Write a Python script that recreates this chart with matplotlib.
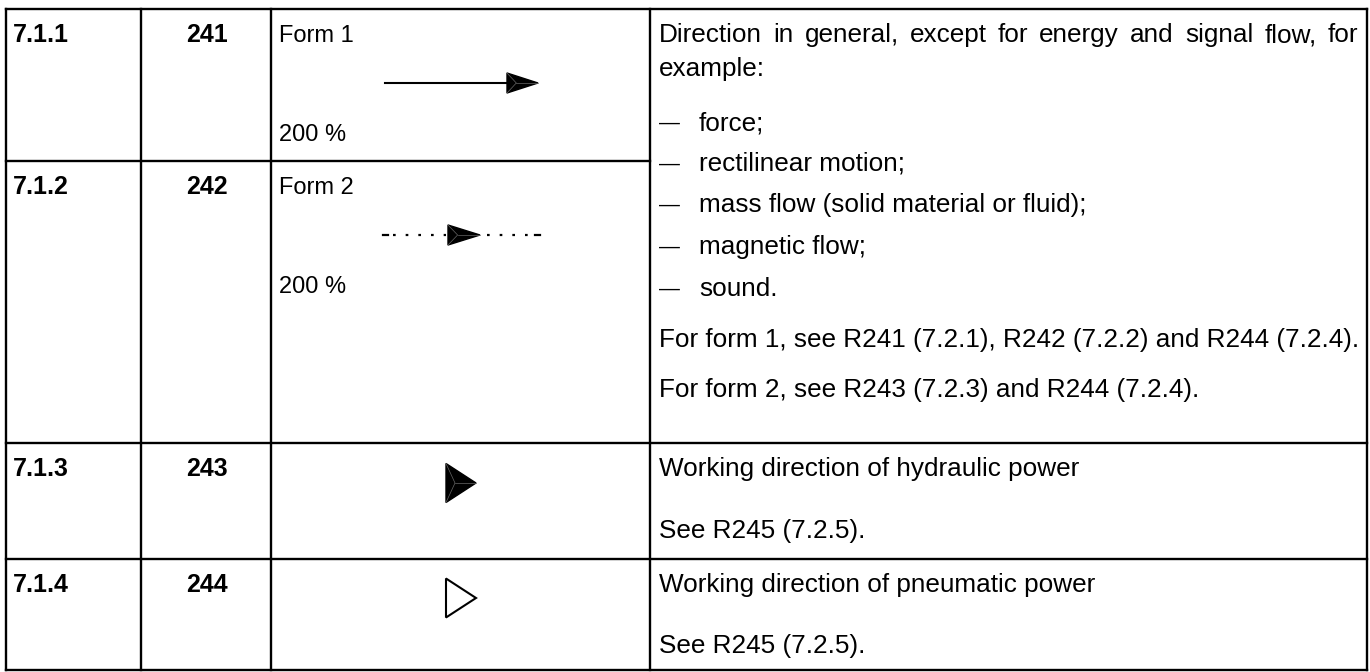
import matplotlib
matplotlib.use("Agg")
import matplotlib.pyplot as plt
from matplotlib.patches import Polygon

# table content
item_ids = ["7.1.1", "7.1.2", "7.1.3", "7.1.4"]
symbol_ids = ["241", "242", "243", "244"]
form_labels = ["Form 1", "Form 2"]
scale_labels = ["200 %", "200 %"]
intro = "Direction in general, except for energy and signal flow, for"
intro2 = "example:"
bullets = ["force;", "rectilinear motion;", "mass flow (solid material or fluid);",
           "magnetic flow;", "sound."]
refs = ["For form 1, see R241 (7.2.1), R242 (7.2.2) and R244 (7.2.4).",
        "For form 2, see R243 (7.2.3) and R244 (7.2.4)."]
hyd_lines = ["Working direction of hydraulic power", "See R245 (7.2.5)."]
pneu_lines = ["Working direction of pneumatic power", "See R245 (7.2.5)."]

# layout (pixels)
W, H = 1370, 672
col_x = [6, 141, 271, 650, 1367]
row_y = [9, 161, 443, 559, 670]
label_y = [35, 187, 469, 585]
scale_y = [135, 287]
intro_y = [35, 69]
bullet_y = [123, 164, 205, 247, 289]
ref_y = [340, 390]
fs_bold = 18
fs_norm = 17
fs_desc = 18.8
font = "Liberation Sans"

fig = plt.figure(figsize=(W / 100, H / 100), dpi=100)
ax = fig.add_axes([0, 0, 1, 1])
ax.set_xlim(0, W)
ax.set_ylim(H, 0)
ax.axis("off")
renderer = fig.canvas.get_renderer()

lw = 1.7
for x in col_x:
    ax.plot([x, x], [row_y[0], row_y[-1]], color="black", lw=lw, solid_capstyle="projecting")
for y in [row_y[0], row_y[2], row_y[3], row_y[4]]:
    ax.plot([col_x[0], col_x[-1]], [y, y], color="black", lw=lw, solid_capstyle="projecting")
# split between 7.1.1 and 7.1.2 stops at the description column
ax.plot([col_x[0], col_x[3]], [row_y[1], row_y[1]], color="black", lw=lw)

for i in range(4):
    ax.text(col_x[0] + 7, label_y[i], item_ids[i], fontsize=fs_bold, fontweight="bold",
            family=font, va="center")
    ax.text((col_x[1] + col_x[2]) / 2 + 1, label_y[i], symbol_ids[i], fontsize=fs_bold,
            fontweight="bold", family=font, va="center", ha="center")
for i in range(2):
    ax.text(col_x[2] + 8, label_y[i] + 1, form_labels[i], fontsize=fs_norm, family=font, va="center")
    ax.text(col_x[2] + 8, scale_y[i], scale_labels[i], fontsize=fs_norm, family=font, va="center")

tx = col_x[3] + 9


def spread_words(s, x0, x1, y):
    # justified line: words spread so the line runs from x0 to x1
    words = s.split(" ")
    ts = [ax.text(x0, y, w, fontsize=fs_desc, family=font, va="center") for w in words]
    widths = [t.get_window_extent(renderer).width for t in ts]
    gap = (x1 - x0 - sum(widths)) / (len(words) - 1)
    x = x0
    for t, w in zip(ts, widths):
        t.set_x(x)
        x += w + gap


spread_words(intro, tx, 1358, intro_y[0])
ax.text(tx, intro_y[1], intro2, fontsize=fs_desc, family=font, va="center")
for txt, y in zip(bullets, bullet_y):
    ax.text(tx, y, "\u2014", fontsize=fs_desc * 0.8, family=font, va="center")
    ax.text(tx + 40, y, txt, fontsize=fs_desc, family=font, va="center")
for txt, y in zip(refs, ref_y):
    ax.text(tx, y, txt, fontsize=fs_desc, family=font, va="center")

for txt, y in zip(hyd_lines, [469, 531]):
    ax.text(tx, y, txt, fontsize=fs_desc, family=font, va="center")
for txt, y in zip(pneu_lines, [585, 646]):
    ax.text(tx, y, txt, fontsize=fs_desc, family=font, va="center")


def arrow_head(x0, yc, w, h, filled=True):
    tri = [(x0, yc - h / 2), (x0 + w, yc), (x0, yc + h / 2)]
    if filled:
        ax.add_patch(Polygon(tri, closed=True, fc="black", ec="black", lw=1))
        # faint facet lines inside the head
        ax.plot([x0, x0 + w * 0.3, x0], [yc - h / 2, yc, yc + h / 2], color="#666666", lw=0.5)
        ax.plot([x0 + w * 0.3, x0 + w], [yc, yc], color="#666666", lw=0.5)
    else:
        ax.add_patch(Polygon(tri, closed=True, fc="white", ec="black", lw=1.5))


# form 1: solid arrow
ax.plot([385, 510], [83, 83], color="black", lw=1.5)
arrow_head(507, 83, 31, 20)
# form 2: dotted arrow with short dashes at both ends
ax.plot([393, 446], [235, 235], color="black", lw=1.6, ls=(0, (1.2, 4.5)))
ax.plot([487, 532], [235, 235], color="black", lw=1.6, ls=(0, (1.2, 4.5)))
ax.plot([383, 388], [235, 235], color="black", lw=1.6)
ax.plot([535, 540], [235, 235], color="black", lw=1.6)
arrow_head(448, 235, 32, 20)
# hydraulic and pneumatic heads
arrow_head(446, 483, 30, 39)
arrow_head(446, 598, 30, 39, filled=False)

fig.savefig("out.png", dpi=100)
